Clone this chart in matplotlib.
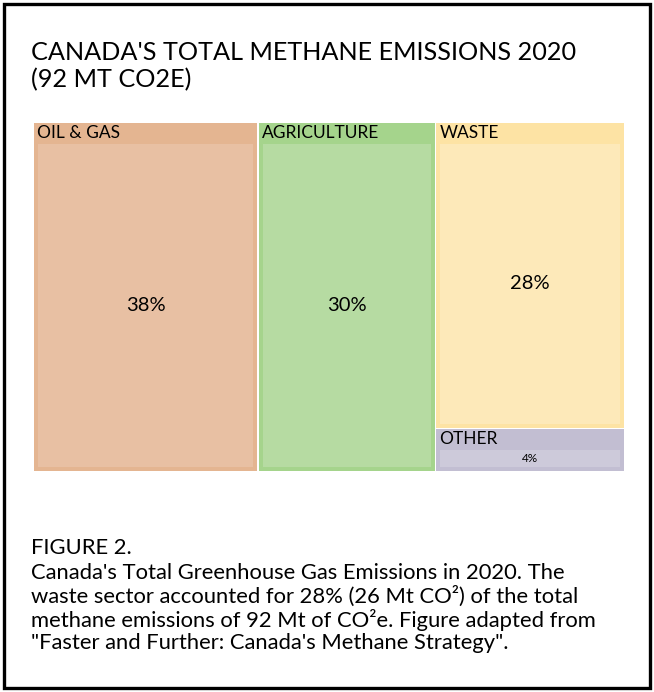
import matplotlib
matplotlib.use("Agg")
import matplotlib.pyplot as plt
from matplotlib.patches import Rectangle

plt.rcParams['font.family'] = ['Lato', 'DejaVu Sans']

# data
sectors = ["OIL & GAS", "AGRICULTURE", "WASTE", "OTHER"]
shares = [38, 30, 28, 4]
outer_colors = ["#e4b591", "#a5d48c", "#fde3a4", "#c2bed2"]
inner_colors = ["#e8c0a3", "#b6dba2", "#fde9b9", "#cdcada"]
pct_sizes = [14.5, 14.5, 14.5, 8.5]

title = "CANADA'S TOTAL METHANE EMISSIONS 2020\n(92 MT CO2E)"
caption_head = "FIGURE 2."
caption = ("Canada's Total Greenhouse Gas Emissions in 2020. The\n"
           "waste sector accounted for 28% (26 Mt CO\u00b2) of the total\n"
           "methane emissions of 92 Mt of CO\u00b2e. Figure adapted from\n"
           "\"Faster and Further: Canada's Methane Strategy\".")

W, H = 654, 692
fig = plt.figure(figsize=(W / 100, H / 100), dpi=100)
ax = fig.add_axes([0, 0, 1, 1])
ax.set_xlim(0, W)
ax.set_ylim(H, 0)
ax.axis("off")

# outer frame
ax.add_patch(Rectangle((4, 4), W - 8, H - 8, fill=False, ec="black", lw=2.4))

# treemap area
x0, y0, x1, y1 = 33, 122, 625, 472
total = sum(shares)
tw = x1 - x0
th = y1 - y0

# slice: first two as columns, last two stacked in the remaining column
rects = []
cx = x0
for s in shares[:2]:
    w = tw * s / total
    rects.append((cx, y0, w, th))
    cx += w
rest = sum(shares[2:])
cw = x1 - cx
cy = y0
for s in shares[2:]:
    h = th * s / rest
    rects.append((cx, cy, cw, h))
    cy += h

gap = 1.5
head = 22
pad = 4
for (x, y, w, h), name, s, oc, ic, ps in zip(rects, sectors, shares,
                                               outer_colors, inner_colors, pct_sizes):
    ax.add_patch(Rectangle((x + gap / 2, y + gap / 2), w - gap, h - gap,
                           fc=oc, ec="none"))
    ix, iy = x + gap / 2 + pad, y + head
    iw, ih = w - gap - 2 * pad, h - head - pad - gap / 2
    ax.add_patch(Rectangle((ix, iy), iw, ih, fc=ic, ec="none"))
    ax.text(x + 4, y + 11, name, fontsize=12.5, va="center", ha="left", color="black")
    ax.text(ix + iw / 2, iy + ih / 2, f"{s}%", fontsize=ps,
            ha="center", va="center", color="black")

ax.text(31, 66, title, fontsize=18.2, va="center", ha="left",
        linespacing=1.22)

ax.text(31, 548, caption_head, fontsize=15.8, va="center", ha="left")
ax.text(31, 608, caption, fontsize=15.8, va="center", ha="left",
        linespacing=1.12)

fig.savefig("out.png", dpi=100)
